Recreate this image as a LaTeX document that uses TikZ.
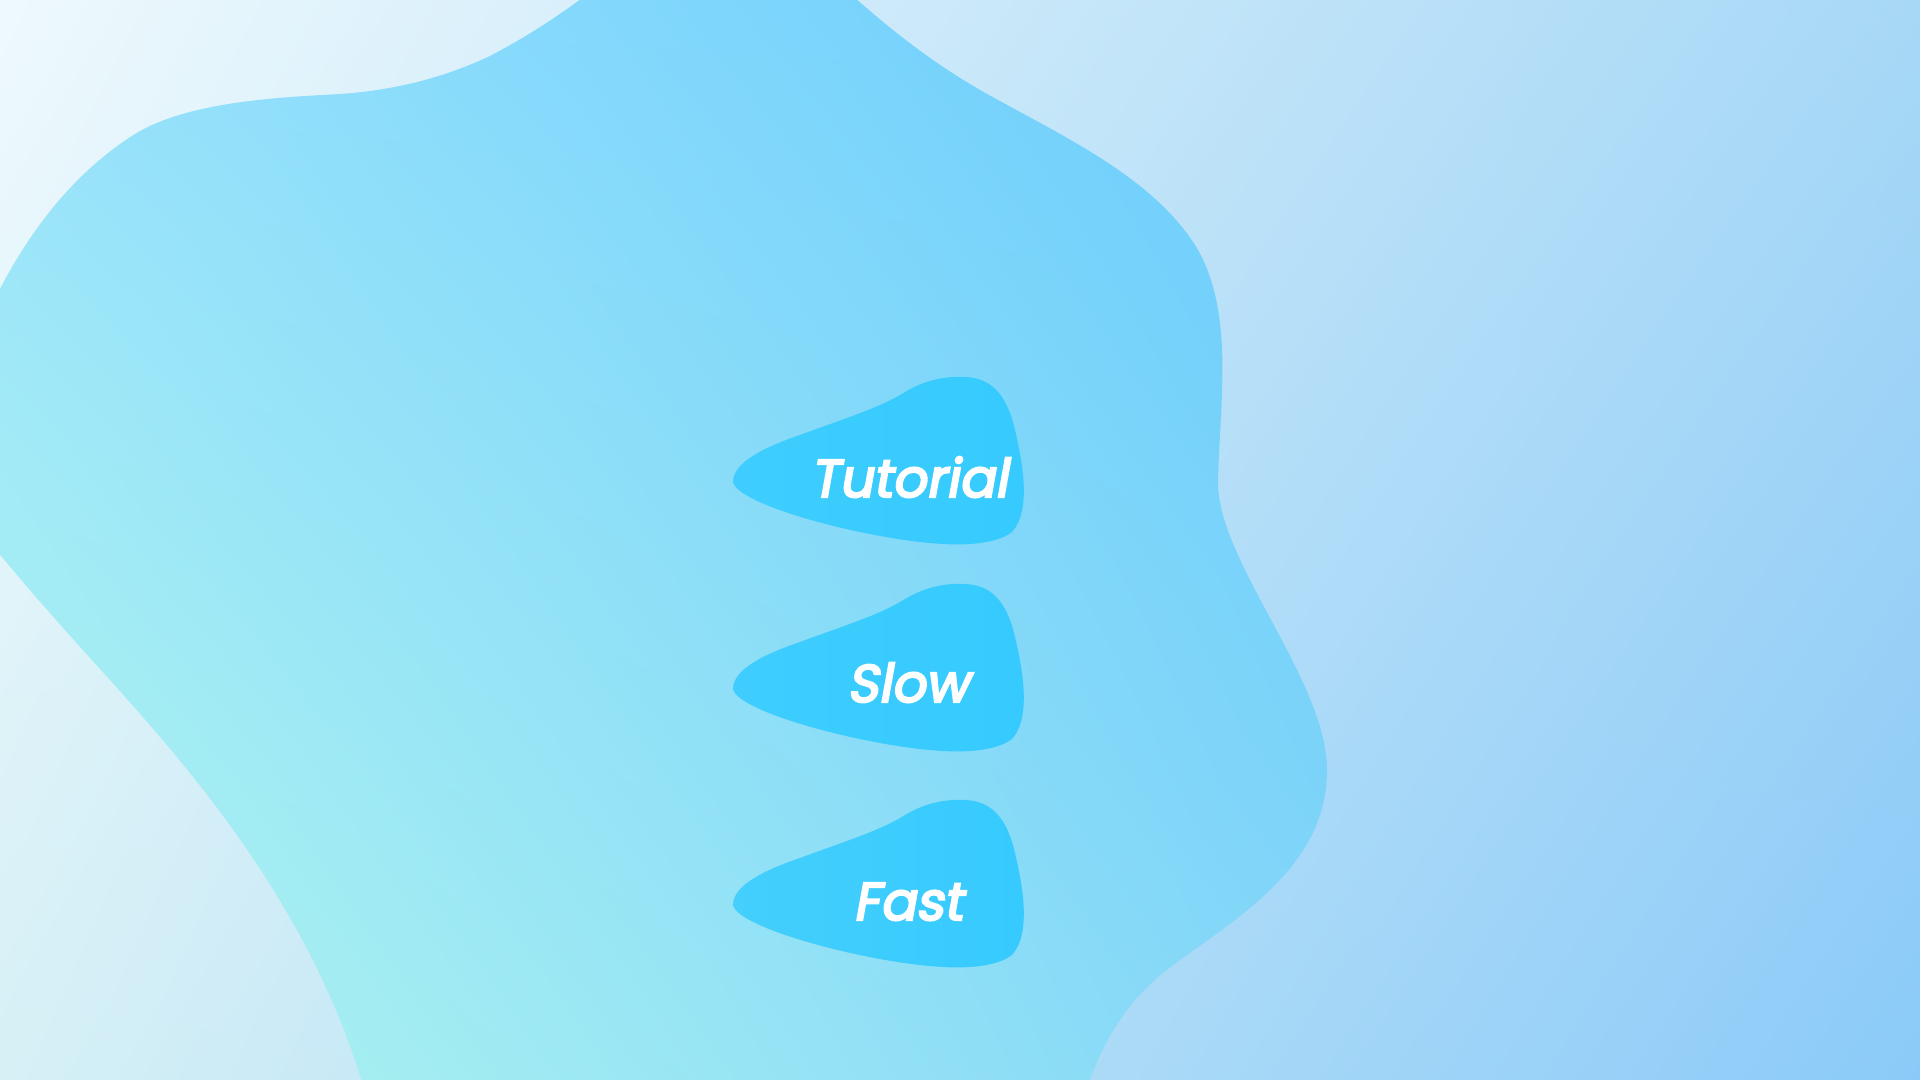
\documentclass[tikz,border=0pt]{standalone}
\usepackage{fontspec}
\newfontfamily\popfont{Poppins}[FakeSlant=0.18, FakeBold=4]
\usetikzlibrary{shadings}
\definecolor{bgTL}{HTML}{EEF9FD}
\definecolor{bgTR}{HTML}{A7D8F6}
\definecolor{bgBL}{HTML}{D6F0F6}
\definecolor{bgBR}{HTML}{8BCAF8}
\definecolor{bbTL}{HTML}{98E1FC}
\definecolor{bbTR}{HTML}{68CCFC}
\definecolor{bbBL}{HTML}{B2F8EE}
\definecolor{bbBR}{HTML}{84D6F8}
\definecolor{pillL}{HTML}{3ECDFE}
\definecolor{pillR}{HTML}{36CAFE}
\definecolor{pillLL}{HTML}{44CFFD}
\def\smallblobpath{(733,482) .. controls (733,462) and (765,447) .. (800,435)
  .. controls (840,420) and (880,408) .. (905,392)
  .. controls (925,380) and (945,376) .. (965,377)
  .. controls (995,378) and (1008,400) .. (1015,430)
  .. controls (1022,460) and (1032,510) .. (1012,532)
  .. controls (995,545) and (960,546) .. (930,543)
  .. controls (860,537) and (738,505) .. (733,482) -- cycle}
\begin{document}
\begin{tikzpicture}[x=0.5pt,y=-0.5pt,
  labeltext/.style={text=white, font=\popfont\fontsize{26.5}{26.5}\selectfont, anchor=base, inner sep=0pt},
  pillfill/.style={left color=pillL, right color=pillR}]
\useasboundingbox (0,0) rectangle (1920,1080);
\clip (0,0) rectangle (1920,1080);
% background
\shade[upper left=bgTL, upper right=bgTR, lower left=bgBL, lower right=bgBR] (0,0) rectangle (1920,1080);
% large blob
\shade[upper left=bbTL, upper right=bbTR, lower left=bbBL, lower right=bbBR]
  (-20,330) .. controls (20,240) and (70,175) .. (135,134)
  .. controls (190,100) and (290,97) .. (340,94)
  .. controls (400,90) and (450,75) .. (490,56)
  .. controls (530,35) and (560,15) .. (600,-15)
  -- (840,-15)
  .. controls (880,20) and (920,55) .. (980,90)
  .. controls (1060,135) and (1150,175) .. (1195,245)
  .. controls (1235,310) and (1220,400) .. (1218,480)
  .. controls (1216,560) and (1327,680) .. (1327,770)
  .. controls (1327,860) and (1250,910) .. (1180,960)
  .. controls (1130,995) and (1100,1040) .. (1080,1110)
  -- (370,1110)
  .. controls (320,920) and (200,780) .. (110,680)
  .. controls (60,625) and (20,580) .. (-20,530) -- cycle;
% small blobs
\shade[pillfill] \smallblobpath;
\begin{scope}[yshift=-103.5pt]
\shade[pillfill] \smallblobpath;
\end{scope}
\begin{scope}[yshift=-211.5pt]
\shade[pillfill, left color=pillLL] \smallblobpath;
\end{scope}
\node[labeltext] (tut) at (909,497) {Tutorial};
\node[labeltext] (slow) at (908,702) {Slow};
\node[labeltext] (fast) at (908,920) {Fast};
\end{tikzpicture}
\end{document}
